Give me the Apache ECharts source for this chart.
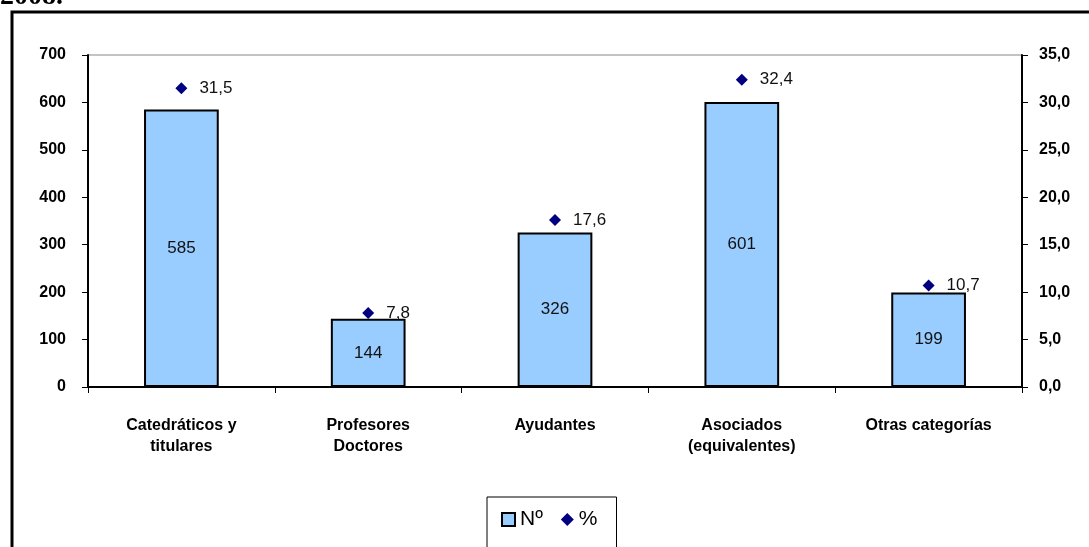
<!DOCTYPE html>
<html>
<head>
    <meta charset="utf-8">
    <title>ECharts</title>
    <script src="https://cdn.jsdelivr.net/npm/echarts@6/dist/echarts.min.js"></script>
    <style>
        body { margin: 0; background: #fff; }
        #main { width: 1089px; height: 547px; }
    </style>
</head>
<body>
    <div id="main"></div>
    <script type="text/javascript">
    // data
    var categories = ['Catedráticos y\ntitulares', 'Profesores\nDoctores', 'Ayudantes', 'Asociados\n(equivalentes)', 'Otras categorías'];
    var numData = [585, 144, 326, 601, 199];
    var pctData = [31.5, 7.8, 17.6, 32.4, 10.7];
    var leftTicks = [0, 700, 100];   // min, max, step
    var rightTicks = [0, 35, 5];

    function comma(v, d) {
        return v.toFixed(d).replace('.', ',');
    }

    var myChart = echarts.init(document.getElementById('main'));

    var option = {
        animation: false,
        backgroundColor: '#fff',
        textStyle: { fontFamily: 'Liberation Sans, Arial, sans-serif' },
        graphic: [
            {
                type: 'rect',
                shape: { x: 12, y: 12, width: 1200, height: 700 },
                style: { fill: 'none', stroke: '#000', lineWidth: 3 },
                z: 0
            },
            {
                type: 'text',
                left: 0, top: -17,
                style: { text: '2008.', font: 'bold 28px "Liberation Serif", serif', fill: '#000' }
            }
        ],
        grid: {
            left: 88, right: 67, top: 55, bottom: 160,
            show: true, borderColor: '#888', borderWidth: 1
        },
        legend: {
            left: 487, top: 497,
            padding: [12, 19, 30, 14],
            borderColor: '#000', borderWidth: 1,
            itemGap: 18, itemWidth: 13, itemHeight: 13,
            textStyle: { fontSize: 21, color: '#000' },
            data: [
                { name: 'Nº', icon: 'rect', itemStyle: { color: '#99ccff', borderColor: '#000', borderWidth: 2 } },
                { name: '%', icon: 'diamond', itemStyle: { color: '#000080', opacity: 1 } }
            ]
        },
        xAxis: {
            type: 'category',
            data: categories,
            axisLine: { lineStyle: { color: '#000', width: 2 } },
            axisTick: { show: true, length: 6, lineStyle: { color: '#000' } },
            axisLabel: {
                margin: 28, color: '#000', fontWeight: 'bold', fontSize: 16, lineHeight: 21,
                interval: 0
            }
        },
        yAxis: [{
            type: 'value',
            min: leftTicks[0], max: leftTicks[1], interval: leftTicks[2],
            axisLine: { show: true, lineStyle: { color: '#000', width: 2 } },
            axisTick: { show: true, length: 6, lineStyle: { color: '#000' } },
            axisLabel: { margin: 22, color: '#000', fontWeight: 'bold', fontSize: 16 },
            splitLine: { show: false }
        }, {
            type: 'value',
            min: rightTicks[0], max: rightTicks[1], interval: rightTicks[2],
            position: 'right',
            axisLine: { show: true, lineStyle: { color: '#000', width: 2 } },
            axisTick: { show: true, length: 6, lineStyle: { color: '#000' } },
            axisLabel: {
                margin: 17, color: '#000', fontWeight: 'bold', fontSize: 16,
                formatter: function (v) { return comma(v, 1); }
            },
            splitLine: { show: false }
        }],
        series: [{
            name: 'Nº',
            type: 'bar',
            data: numData,
            barWidth: '40%',
            itemStyle: { color: '#99ccff', borderColor: '#000', borderWidth: 2 },
            label: { show: true, position: 'inside', color: '#111', fontSize: 17 }
        }, {
            name: '%',
            type: 'scatter',
            yAxisIndex: 1,
            data: pctData,
            symbol: 'diamond',
            symbolSize: 12,
            itemStyle: { color: '#000080', opacity: 1 },
            label: {
                show: true, position: 'right', distance: 12, color: '#111', fontSize: 17,
                formatter: function (p) { return comma(p.value, 1); }
            }
        }]
    };

    myChart.setOption(option);
    </script>
</body>
</html>
